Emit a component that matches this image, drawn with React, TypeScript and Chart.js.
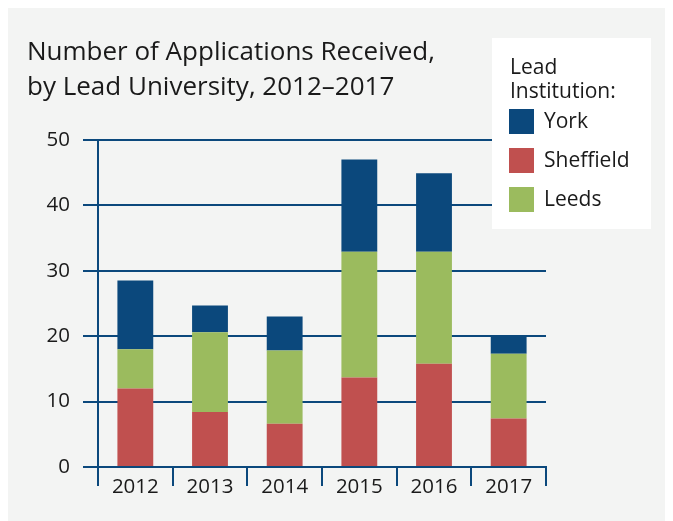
import React, { useEffect, useRef } from "react";
import { Chart, registerables } from "chart.js";

Chart.register(...registerables);

const years = ["2012", "2013", "2014", "2015", "2016", "2017"];
const sheffield = [12, 8.4, 6.6, 13.7, 15.8, 7.4];
const leeds = [6, 12.2, 11.2, 19.2, 17.1, 9.9];
const york = [10.5, 4.1, 5.2, 14.1, 12.0, 2.9];
const yTicks = [0, 10, 20, 30, 40, 50];
const titleLines = ["Number of Applications Received,", "by Lead University, 2012–2017"];
const legendTitle = ["Lead", "Institution:"];
const legendOrder = ["York", "Sheffield", "Leeds"];

const FONT = "'Open Sans', 'Noto Sans', sans-serif";
const BG = "#f3f4f3";
const NAVY = "#0b487c";
const RED = "#c0504f";
const GREEN = "#9bbb5e";
const TEXT = "#1a1a1a";

const overlay = {
  id: "overlay",
  afterDraw(chart: any) {
    const ctx = chart.ctx as CanvasRenderingContext2D;
    ctx.save();
    ctx.fillStyle = TEXT;
    ctx.textAlign = "left";
    ctx.textBaseline = "alphabetic";
    ctx.font = `26px ${FONT}`;
    titleLines.forEach((t, i) => ctx.fillText(t, 19, 52 + i * 35));

    ctx.fillStyle = "#ffffff";
    ctx.fillRect(484, 30, 159, 191);

    ctx.fillStyle = TEXT;
    ctx.font = `21px ${FONT}`;
    legendTitle.forEach((t, i) => ctx.fillText(t, 502, 66 + i * 24));

    legendOrder.forEach((name, i) => {
      const ds = chart.data.datasets.find((d: any) => d.label === name);
      ctx.fillStyle = ds.backgroundColor;
      ctx.fillRect(501, 101 + i * 39, 25, 25);
      ctx.fillStyle = TEXT;
      ctx.textBaseline = "middle";
      ctx.fillText(name, 536, 114 + i * 39);
    });
    ctx.restore();
  },
};

export default function App() {
  const ref = useRef<HTMLCanvasElement>(null);
  useEffect(() => {
    if (!ref.current) return;
    const chart = new Chart(ref.current, {
      type: "bar",
      data: {
        labels: years,
        datasets: [
          { label: "Sheffield", data: sheffield, backgroundColor: RED, barPercentage: 0.48, categoryPercentage: 1 },
          { label: "Leeds", data: leeds, backgroundColor: GREEN, barPercentage: 0.48, categoryPercentage: 1 },
          { label: "York", data: york, backgroundColor: NAVY, barPercentage: 0.48, categoryPercentage: 1 },
        ],
      },
      options: {
        animation: false,
        responsive: false,
        maintainAspectRatio: false,
        layout: { padding: { top: 132, right: 127, left: 0, bottom: 0 } },
        plugins: {
          legend: { display: false },
          title: { display: false },
          tooltip: { enabled: false },
        },
        scales: {
          x: {
            stacked: true,
            grid: {
              display: true,
              drawOnChartArea: false,
              drawTicks: true,
              tickLength: 19,
              color: NAVY,
              lineWidth: 2,
              offset: true,
            },
            border: { display: true, color: NAVY, width: 2 },
            ticks: { font: { family: FONT, size: 20.5 }, color: TEXT, padding: -11, maxRotation: 0 },
            afterFit: (s: any) => {
              s.height = 54;
            },
          },
          y: {
            stacked: true,
            min: 0,
            max: 50,
            afterBuildTicks: (s: any) => {
              s.ticks = yTicks.map((v) => ({ value: v }));
            },
            ticks: { font: { family: FONT, size: 20.5 }, color: TEXT, padding: 13 },
            grid: { color: NAVY, lineWidth: 2, tickLength: 15, drawTicks: true },
            border: { display: true, color: NAVY, width: 2 },
            afterFit: (s: any) => {
              s.width = 90;
            },
          },
        },
      },
      plugins: [overlay],
    });
    return () => chart.destroy();
  }, []);
  return (
    <div style={{ width: 665, height: 513, background: BG }}>
      <canvas ref={ref} width={665} height={513} style={{ display: "block" }} />
    </div>
  );
}
